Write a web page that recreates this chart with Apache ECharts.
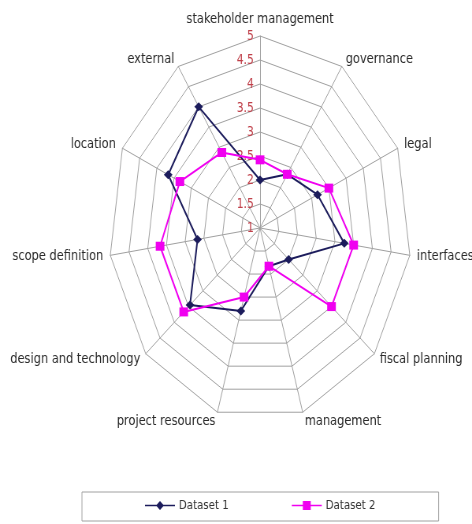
<!DOCTYPE html>
<html>
<head>
<meta charset="utf-8">
<script src="https://cdn.jsdelivr.net/npm/echarts@6/dist/echarts.min.js"></script>
<style>
  html, body { margin: 0; padding: 0; background: #fff; overflow: hidden; }
  /* the reference plot is squeezed sideways, so draw wide and scale down on x */
  #chart { width: 599px; height: 524px; transform: scaleX(0.788); transform-origin: 0 0; }
</style>
</head>
<body>
<div id="chart"></div>
<script>
// clockwise from the top
const categories = ['stakeholder management', 'governance', 'legal', 'interfaces', 'fiscal planning',
  'management', 'project resources', 'design and technology', 'scope definition', 'location', 'external'];
const dataset1 = [2.0, 2.33, 2.67, 3.25, 2.0, 1.83, 2.8, 3.45, 2.67, 3.67, 4.0];
const dataset2 = [2.42, 2.33, 3.0, 3.5, 3.5, 1.83, 2.5, 3.67, 3.67, 3.33, 2.87];
const seriesNames = ['Dataset 1', 'Dataset 2'];
const axisMin = 1;
const axisMax = 5;
const axisStep = 0.5;

const FONT = 'DejaVu Sans';
const GRID = '#a0a0a0';
const NAVY = '#1c1c5c';
const MAGENTA = '#f000f0';

// echarts lays radar indicators out counter-clockwise, so keep the first one and reverse the rest
const order = [0].concat(categories.map((_, i) => i).slice(1).reverse());
const pick = (arr) => order.map((i) => arr[i]);

const indicator = pick(categories).map((name, i) => ({
  name,
  min: axisMin,
  max: axisMax,
  axisLabel: i === 0 ? { show: true } : undefined,
}));

const chart = echarts.init(document.getElementById('chart'), null, { renderer: 'canvas' });
chart.setOption({
  backgroundColor: '#fff',
  animation: false,
  legend: {
    data: [
      { name: seriesNames[0], icon: 'path://M0,4.3H38V5.7H0Z M19,0.5L24,5L19,9.5L14,5Z' },
      { name: seriesNames[1], icon: 'path://M0,4.2H38V5.8H0Z M14,0.5H24V9.5H14Z' },
    ],
    left: 104,
    top: 492,
    padding: [7, 80, 9, 80],
    itemGap: 80,
    itemWidth: 38,
    itemHeight: 10,
    borderColor: '#a0a0a0',
    borderWidth: 1,
    selectedMode: false,
    textStyle: { color: '#333', fontFamily: FONT, fontSize: 13 },
  },
  radar: {
    center: [330, 228],
    radius: 192,
    startAngle: 90,
    shape: 'polygon',
    splitNumber: (axisMax - axisMin) / axisStep,
    indicator,
    axisName: { color: '#2a2a2a', fontFamily: FONT, fontSize: 14.5 },
    nameGap: 9,
    axisLine: { lineStyle: { color: GRID, width: 1 } },
    splitLine: { lineStyle: { color: GRID, width: 1 } },
    splitArea: { show: false },
    axisTick: { show: false },
    axisLabel: {
      show: false,
      color: '#c0404a',
      fontFamily: FONT,
      fontSize: 13.5,
      margin: 8,
    },
  },
  series: [{
    type: 'radar',
    data: [
      {
        name: seriesNames[0],
        value: pick(dataset1),
        symbol: 'diamond',
        symbolSize: [11, 9],
        itemStyle: { color: NAVY },
        lineStyle: { color: NAVY, width: 2 },
      },
      {
        name: seriesNames[1],
        value: pick(dataset2),
        symbol: 'rect',
        symbolSize: [11, 9],
        itemStyle: { color: MAGENTA },
        lineStyle: { color: MAGENTA, width: 2 },
      },
    ],
  }],
});
</script>
</body>
</html>
